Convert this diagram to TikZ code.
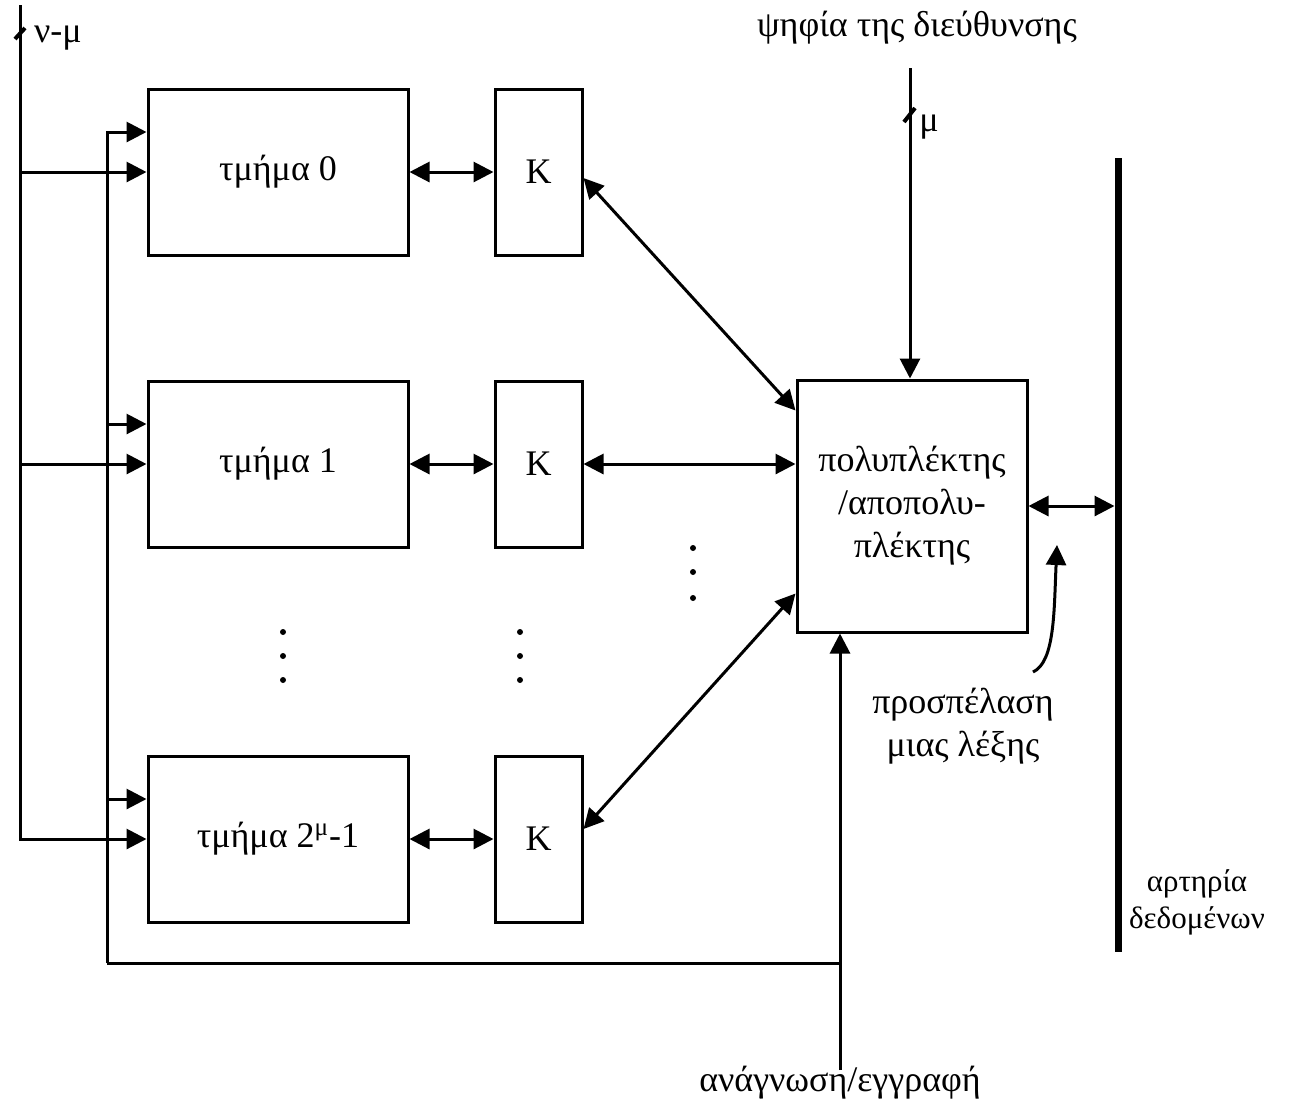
\documentclass[tikz,border=0pt]{standalone}
\usepackage{fontspec}
\setmainfont{Liberation Serif}
\usetikzlibrary{arrows.meta}
\begin{document}
\begin{tikzpicture}[x=0.5pt,y=-0.5pt,
  line width=1.5pt,
  every node/.style={font=\fontsize{18}{21.5}\selectfont, inner sep=0pt},
  tmbox/.style={draw, line width=1.5pt, minimum width=130pt, minimum height=83pt},
  kbox/.style={draw, line width=1.5pt, minimum width=43.5pt, minimum height=83pt},
  muxbox/.style={draw, line width=1.5pt, minimum width=115pt, minimum height=126pt, align=center},
  arr/.style={-{Triangle[length=10pt,width=10pt]}},
  darr/.style={{Triangle[length=10pt,width=10pt]}-{Triangle[length=10pt,width=10pt]}},
  lbl/.style={align=center},
  dotmark/.style={fill, circle, minimum size=3pt, inner sep=0pt}
]
\useasboundingbox (0,0) rectangle (1292,1100);

% boxes
\node[tmbox] (b0) at (278,172) {τμήμα 0};
\node[tmbox] (b1) at (278,464) {τμήμα 1};
\node[tmbox] (b2) at (278,839) {τμήμα 2\textsuperscript{μ}-1};
\node[kbox] (k0) at (538.5,172) {K};
\node[kbox] (k1) at (538.5,464) {K};
\node[kbox] (k2) at (538.5,839) {K};
\node[muxbox] (mux) at (912,506) {πολυπλέκτης\\/αποπολυ-\\πλέκτης};

% left address line (ν-μ)
\coordinate (ltop) at (20,5);
\draw[arr] (ltop) -- (ltop |- b2.west) -- (b2.west);
\draw[arr] (ltop |- b0.west) -- (b0.west);
\draw[arr] (ltop |- b1.west) -- (b1.west);
\coordinate (lt1) at (15,39);
\coordinate (lt2) at (25,28);
\draw[line width=2pt] (lt1) -- (lt2);
\node[lbl] (nm) at (58,38) {ν-μ};

% read/write line
\coordinate (b0a) at ([yshift=20pt]b0.west);
\coordinate (b1a) at ([yshift=20pt]b1.west);
\coordinate (b2a) at ([yshift=20pt]b2.west);
\coordinate (rw) at (107,963);
\coordinate (rwend) at (840,1070);
\draw[arr] (rw) -- (rw |- b0a) -- (b0a);
\draw[arr] (rw |- b1a) -- (b1a);
\draw[arr] (rw |- b2a) -- (b2a);
\draw (rw) -- (rw -| rwend);
\draw[arr] (rwend) -- (rwend |- mux.south);
\node[lbl] (rwl) at (840,1083) {ανάγνωση/εγγραφή};

% box <-> K
\draw[darr] (b0.east) -- (k0.west);
\draw[darr] (b1.east) -- (k1.west);
\draw[darr] (b2.east) -- (k2.west);

% K <-> mux
\draw[darr] ([yshift=-3pt]k0.east) -- ([yshift=-16pt]mux.north west);
\draw[darr] (k1.east) -- (mux.west |- k1.east);
\draw[darr] ([yshift=5pt]k2.east) -- ([yshift=20pt]mux.south west);

% top address bits
\node[lbl] (addr) at (917,28) {ψηφία της διεύθυνσης};
\coordinate (mtop) at (910,68);
\draw[arr] (mtop) -- (mtop |- mux.north);
\coordinate (mt1) at (904,122);
\coordinate (mt2) at (915,108);
\draw[line width=2pt] (mt1) -- (mt2);
\node[lbl] (mu) at (929,127) {μ};

% data bus
\coordinate (bt) at (1118,158);
\coordinate (bb) at (1118,952);
\draw[line width=3.5pt] (bt) -- (bb);
\draw[darr, shorten >=1.75pt] (mux.east) -- (bt |- mux.east);
\node[lbl, font=\fontsize{15.5}{18.5}\selectfont] (busl) at (1197,902) {αρτηρία\\δεδομένων};

% word access curved arrow
\coordinate (cs) at (1033,672);
\coordinate (ce) at (1057,545);
\draw[arr] (cs) .. controls (1055,662) and (1054,610) .. (ce);
\node[lbl, text depth=0pt] (wacc) at (963,722) {προσπέλαση\\μιας λέξης};

% dots
\foreach \yy [count=\i] in {548,572,598} \node[dotmark] (da\i) at (693,\yy) {};
\foreach \yy [count=\i] in {632,656,680} \node[dotmark] (db\i) at (283,\yy) {};
\foreach \yy [count=\i] in {632,656,680} \node[dotmark] (dc\i) at (520,\yy) {};
\end{tikzpicture}
\end{document}
